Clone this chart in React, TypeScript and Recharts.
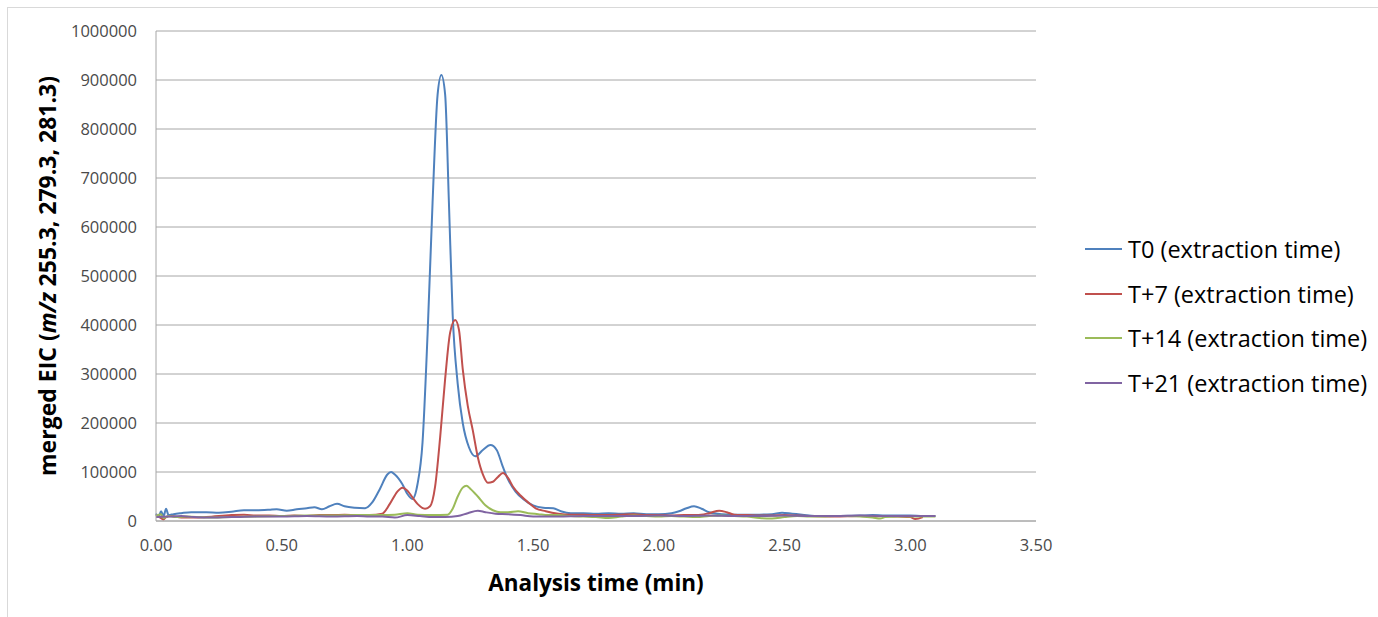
import React from "react";
import { LineChart, Line, XAxis, YAxis, CartesianGrid, Legend, Label } from "recharts";

const seriesNames = [
  "T0 (extraction time)",
  "T+7 (extraction time)",
  "T+14 (extraction time)",
  "T+21 (extraction time)",
];
const seriesColors = ["#4F81BD", "#C0504D", "#9BBB59", "#8064A2"];

const xTicks = [0, 0.5, 1, 1.5, 2, 2.5, 3, 3.5];
const yTicks = [0, 100000, 200000, 300000, 400000, 500000, 600000, 700000, 800000, 900000, 1000000];

const t0Times = [0.0, 0.01, 0.02, 0.03, 0.04, 0.05, 0.07, 0.1, 0.14, 0.2, 0.25, 0.3, 0.35, 0.4, 0.45, 0.48, 0.52, 0.56, 0.6, 0.63, 0.66, 0.69, 0.72, 0.75, 0.79, 0.83, 0.86, 0.89, 0.92, 0.935, 0.95, 0.98, 1.0, 1.02, 1.04, 1.06, 1.08, 1.1, 1.12, 1.135, 1.15, 1.165, 1.18, 1.2, 1.22, 1.245, 1.27, 1.3, 1.33, 1.355, 1.38, 1.4, 1.43, 1.46, 1.5, 1.54, 1.58, 1.61, 1.65, 1.7, 1.75, 1.8, 1.85, 1.9, 1.95, 2.0, 2.05, 2.08, 2.11, 2.14, 2.17, 2.2, 2.25, 2.3, 2.35, 2.4, 2.45, 2.49, 2.53, 2.57, 2.62, 2.7, 2.8, 2.85, 2.9, 2.95, 3.0, 3.05, 3.1];
const t0Values = [15000, 8000, 20000, 10000, 25000, 12000, 14000, 16000, 18000, 18000, 17000, 19000, 22000, 22000, 23000, 24000, 21000, 24000, 26000, 28000, 24000, 30000, 35000, 30000, 27000, 26000, 38000, 65000, 95000, 100000, 95000, 75000, 55000, 45000, 75000, 160000, 380000, 650000, 870000, 910000, 870000, 650000, 420000, 280000, 200000, 150000, 132000, 145000, 155000, 145000, 110000, 85000, 60000, 45000, 32000, 27000, 26000, 20000, 16000, 16000, 15000, 16000, 15000, 16000, 14000, 14000, 16000, 20000, 26000, 30000, 25000, 18000, 14000, 13000, 13000, 13000, 14000, 17000, 15000, 13000, 10000, 10000, 11000, 12000, 11000, 11000, 11000, 10000, 10000];

const t7Times = [0.0, 0.02, 0.03, 0.04, 0.06, 0.1, 0.15, 0.2, 0.3, 0.35, 0.4, 0.45, 0.5, 0.55, 0.6, 0.65, 0.7, 0.75, 0.8, 0.85, 0.9, 0.93, 0.96, 0.98, 1.0, 1.02, 1.04, 1.07, 1.09, 1.11, 1.13, 1.15, 1.17, 1.19, 1.205, 1.22, 1.24, 1.26, 1.28, 1.3, 1.32, 1.34, 1.36, 1.38, 1.4, 1.42, 1.45, 1.48, 1.51, 1.55, 1.6, 1.65, 1.7, 1.75, 1.8, 1.85, 1.9, 1.95, 2.0, 2.05, 2.1, 2.15, 2.2, 2.24, 2.27, 2.3, 2.35, 2.4, 2.45, 2.5, 2.55, 2.6, 2.7, 2.8, 2.85, 2.9, 2.95, 3.0, 3.02, 3.05];
const t7Values = [12000, 6000, 3000, 8000, 10000, 7000, 7000, 8000, 12000, 13000, 11000, 11000, 10000, 11000, 10000, 12000, 12000, 13000, 12000, 12000, 15000, 35000, 60000, 68000, 62000, 48000, 35000, 25000, 30000, 70000, 170000, 290000, 385000, 410000, 390000, 310000, 235000, 185000, 130000, 95000, 78000, 80000, 90000, 98000, 88000, 70000, 52000, 38000, 26000, 20000, 15000, 13000, 13000, 12000, 12000, 13000, 14000, 12000, 12000, 11000, 12000, 12000, 16000, 21000, 18000, 13000, 12000, 11000, 11000, 12000, 11000, 10000, 9000, 10000, 9000, 10000, 9000, 8000, 4000, 8000];

const t14Times = [0.0, 0.02, 0.03, 0.05, 0.08, 0.12, 0.2, 0.3, 0.4, 0.5, 0.6, 0.7, 0.8, 0.9, 0.95, 1.0, 1.04, 1.1, 1.16, 1.18, 1.2, 1.22, 1.235, 1.25, 1.28, 1.31, 1.34, 1.37, 1.4, 1.44, 1.48, 1.52, 1.56, 1.6, 1.65, 1.7, 1.75, 1.8, 1.85, 1.9, 1.95, 2.0, 2.05, 2.1, 2.15, 2.2, 2.25, 2.3, 2.35, 2.4, 2.45, 2.5, 2.55, 2.6, 2.65, 2.7, 2.75, 2.8, 2.85, 2.88, 2.9, 2.95, 3.0, 3.05, 3.1];
const t14Values = [10000, 14000, 6000, 10000, 8000, 9000, 7000, 8000, 9000, 10000, 11000, 11000, 12000, 12000, 13000, 16000, 13000, 12000, 13000, 25000, 50000, 68000, 72000, 66000, 50000, 32000, 22000, 18000, 18000, 20000, 16000, 14000, 12000, 12000, 10000, 9000, 8000, 6000, 9000, 11000, 10000, 9000, 10000, 9000, 8000, 10000, 11000, 10000, 9000, 6000, 5000, 8000, 10000, 9000, 9000, 10000, 10000, 9000, 7000, 5000, 8000, 9000, 9000, 9000, 9000];

const t21Times = [0.0, 0.05, 0.1, 0.15, 0.2, 0.3, 0.4, 0.5, 0.6, 0.7, 0.8, 0.85, 0.9, 0.95, 1.0, 1.05, 1.1, 1.15, 1.2, 1.24, 1.28, 1.31, 1.35, 1.4, 1.45, 1.5, 1.6, 1.7, 1.8, 1.9, 2.0, 2.1, 2.2, 2.3, 2.4, 2.5, 2.6, 2.7, 2.8, 2.9, 3.0, 3.1];
const t21Values = [8000, 9000, 10000, 8000, 7000, 8000, 9000, 9000, 10000, 9000, 10000, 9000, 9000, 7000, 12000, 10000, 8000, 8000, 10000, 16000, 21000, 18000, 15000, 14000, 12000, 9000, 9000, 10000, 10000, 10000, 11000, 10000, 11000, 10000, 10000, 11000, 10000, 10000, 11000, 10000, 10000, 10000];

const build = (ts: number[], vs: number[]) => ts.map((t, i) => ({ t, v: vs[i] }));
const seriesData = [
  build(t0Times, t0Values),
  build(t7Times, t7Values),
  build(t14Times, t14Values),
  build(t21Times, t21Values),
];

const FONT = "'Open Sans', 'Noto Sans', sans-serif";

const YTitle = (props: any) => {
  const vb = props.viewBox || {};
  const cx = 47;
  const cy = vb.y + vb.height / 2;
  return (
    <text
      x={cx}
      y={cy}
      transform={`rotate(-90, ${cx}, ${cy})`}
      textAnchor="middle"
      dominantBaseline="central"
      fontFamily={FONT}
      fontWeight="bold"
      fontSize={23}
      fill="#000"
    >
      <tspan>merged EIC (</tspan>
      <tspan fontStyle="italic">m/z</tspan>
      <tspan> 255.3, 279.3, 281.3)</tspan>
    </text>
  );
};

const XTitle = (props: any) => {
  const vb = props.viewBox || {};
  return (
    <text
      x={vb.x + vb.width / 2}
      y={582}
      textAnchor="middle"
      dominantBaseline="central"
      fontFamily={FONT}
      fontWeight="bold"
      fontSize={22.5}
      fill="#000"
    >
      Analysis time (min)
    </text>
  );
};

const LegendContent = (props: any) => {
  const payload = [...(props.payload || [])].sort(
    (a: any, b: any) => seriesNames.indexOf(a.value) - seriesNames.indexOf(b.value)
  );
  return (
    <div style={{ fontFamily: FONT, fontSize: 23.5, color: "#000" }}>
      {payload.map((p: any, i: number) => (
        <div key={i} style={{ display: "flex", alignItems: "center", height: 44.5 }}>
          <div style={{ width: 37, height: 2, background: p.color, marginRight: 6 }} />
          <span style={{ whiteSpace: "nowrap" }}>{p.value}</span>
        </div>
      ))}
    </div>
  );
};

export default function App() {
  return (
    <div
      style={{
        position: "absolute",
        left: 0,
        top: 0,
        width: 1378,
        height: 617,
        background: "#fff",
      }}
    >
      <div
        style={{
          position: "absolute",
          left: 7,
          top: 7,
          width: 1380,
          height: 630,
          border: "1px solid #d9d9d9",
          boxSizing: "border-box",
        }}
      />
      <LineChart
        width={1378}
        height={617}
        margin={{ top: 31, right: 342, left: 0, bottom: 66 }}
        style={{ position: "absolute", left: 0, top: 0 }}
      >
        <CartesianGrid horizontal vertical={false} stroke="#a6a6a6" strokeWidth={1} />
        <XAxis
          dataKey="t"
          type="number"
          domain={[0, 3.5]}
          ticks={xTicks}
          tickFormatter={(v: number) => v.toFixed(2)}
          axisLine={{ stroke: "#a6a6a6" }}
          tickLine={false}
          tickMargin={12}
          height={30}
          tick={{ fill: "#4a4a4a", fontSize: 16.5, fontFamily: FONT }}
          allowDuplicatedCategory={false}
        >
          <Label content={<XTitle />} position="bottom" />
        </XAxis>
        <YAxis
          type="number"
          domain={[0, 1000000]}
          ticks={yTicks}
          width={156}
          axisLine={{ stroke: "#a6a6a6" }}
          tickLine={false}
          tickMargin={13}
          tick={{ fill: "#4a4a4a", fontSize: 16.5, fontFamily: FONT }}
          interval={0}
        >
          <Label content={<YTitle />} position="left" />
        </YAxis>
        {seriesNames.map((name, i) => (
          <Line
            key={name}
            data={seriesData[i]}
            dataKey="v"
            name={name}
            type="monotone"
            stroke={seriesColors[i]}
            strokeWidth={2}
            dot={false}
            activeDot={false}
            isAnimationActive={false}
          />
        ))}
        <Legend
          layout="vertical"
          align="center"
          verticalAlign="middle"
          itemSorter={null as any}
          content={<LegendContent />}
          wrapperStyle={{ left: 1085, top: 227, width: 300, height: 180 }}
        />
      </LineChart>
    </div>
  );
}
